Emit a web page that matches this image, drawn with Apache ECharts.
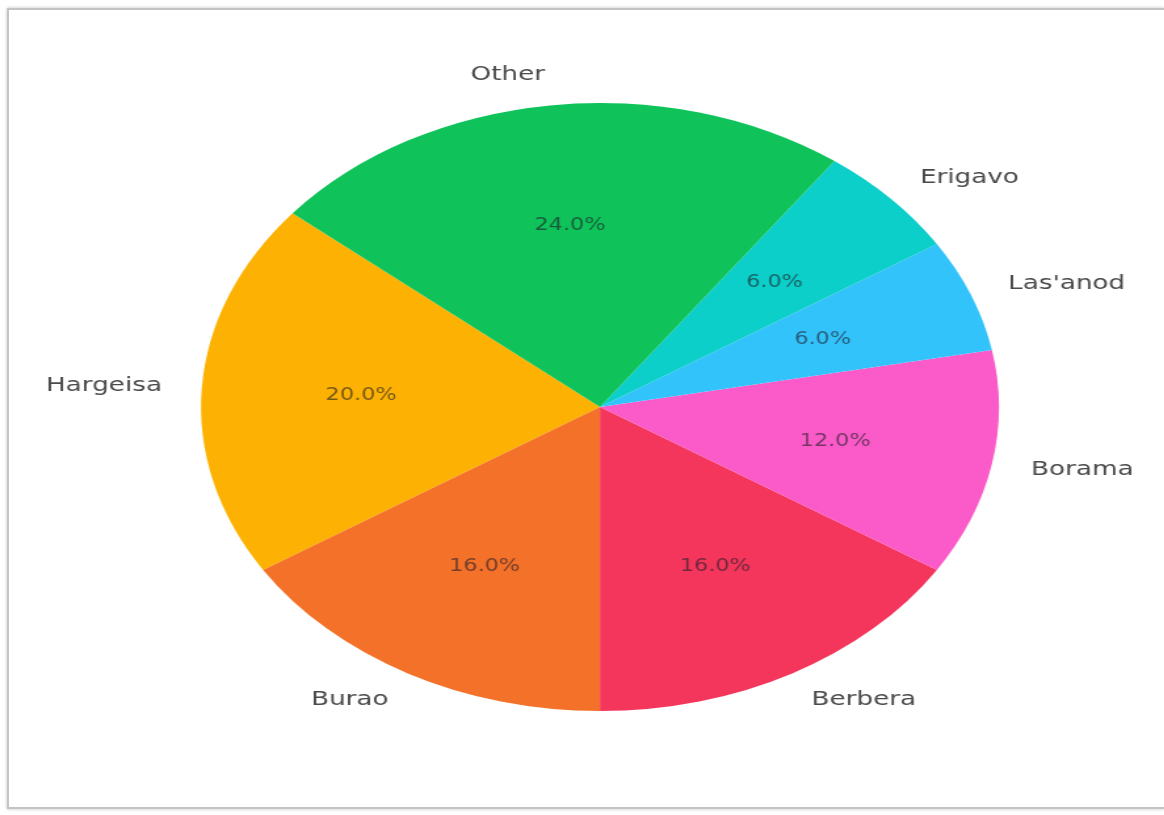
<!DOCTYPE html>
<html>
<head>
<meta charset="utf-8">
<script src="https://cdn.jsdelivr.net/npm/echarts@6/dist/echarts.min.js"></script>
<style>
  html, body { margin: 0; padding: 0; background: #fff; }
  body { width: 1164px; height: 815px; position: relative; overflow: hidden; }
  #frame {
    position: absolute; left: 7px; top: 8px; width: 1157px; height: 801px;
    box-sizing: border-box;
    border: 2px solid #c4c4c4; border-right: none;
    box-shadow: 0 0 3px rgba(0,0,0,0.25);
  }
  /* the figure is drawn with a horizontal stretch, so the pie becomes an ellipse */
  #chart {
    position: absolute; left: 0; top: 0;
    width: 887px; height: 815px;
    transform: scaleX(1.3125); transform-origin: 0 0;
  }
</style>
</head>
<body>
<div id="frame"></div>
<div id="chart"></div>
<script>
// City shares (percent)
const cities = ['Hargeisa', 'Burao', 'Berbera', 'Borama', "Las'anod", 'Erigavo', 'Other'];
const shares = [20, 16, 16, 12, 6, 6, 24];
const colors = ['#fdb203', '#f47129', '#f5365c', '#fb5bc8', '#33c3fb', '#0ccfc9', '#0fc35a'];

const R = 304;              // pie radius in px (before the horizontal stretch)
const CX = 600 / 1.3125;    // centre x in unstretched coordinates
const CY = 407;
const START = 140.4;        // first wedge begins here, going counter-clockwise

const slices = cities.map((name, i) => ({ name, value: shares[i], itemStyle: { color: colors[i] } }));

const chart = echarts.init(document.getElementById('chart'), null, { renderer: 'canvas' });
chart.setOption({
  animation: false,
  backgroundColor: 'transparent',
  series: [
    {
      // wedges with their names outside at 1.1 R
      type: 'pie',
      center: [CX, CY],
      radius: [0, R],
      startAngle: START,
      clockwise: false,
      avoidLabelOverlap: false,
      silent: true,
      itemStyle: { borderWidth: 0 },
      label: {
        show: true,
        position: 'outside',
        formatter: '{b}',
        fontFamily: 'DejaVu Sans',
        fontSize: 20,
        color: '#4a4a4a',
        distanceToLabelLine: 0
      },
      labelLine: { show: false, length: R * 0.1, length2: 0 },
      data: slices
    },
    {
      // percentage labels at 0.6 R
      type: 'pie',
      center: [CX, CY],
      radius: [0, R * 1.2 - 6],
      startAngle: START,
      clockwise: false,
      avoidLabelOverlap: false,
      silent: true,
      itemStyle: { color: 'rgba(0,0,0,0)', borderWidth: 0 },
      label: {
        show: true,
        position: 'inside',
        formatter: p => p.percent.toFixed(1) + '%',
        fontFamily: 'DejaVu Sans',
        fontSize: 17,
        color: 'rgba(30,30,40,0.62)'
      },
      labelLine: { show: false },
      data: cities.map((name, i) => ({ name, value: shares[i] }))
    }
  ]
});
</script>
</body>
</html>
